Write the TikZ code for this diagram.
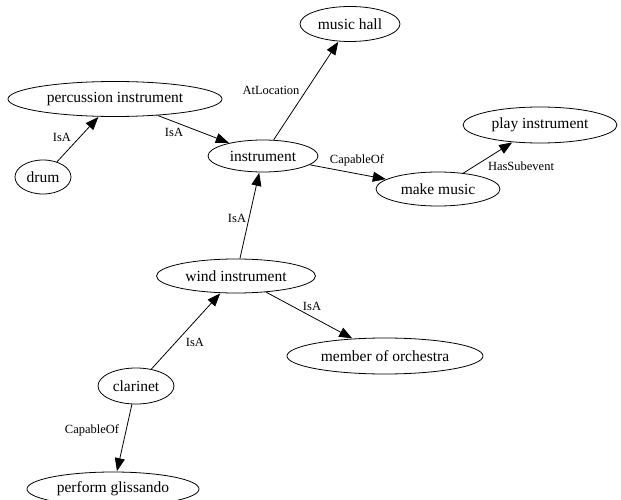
\documentclass[tikz,border=0pt]{standalone}
\usepackage{fontspec}
\setmainfont{Liberation Serif}
\usetikzlibrary{shapes.geometric,arrows.meta}
\begin{document}
\begin{tikzpicture}[x=1pt,y=-1pt,
  concept/.style={draw,ellipse,inner sep=0pt,line width=0.8pt,font=\fontsize{15.5}{15.5}\selectfont},
  rel/.style={draw,line width=0.8pt,-{Triangle[length=13pt,width=10pt]},shorten >=0.5pt},
  lbl/.style={font=\fontsize{12.5}{12.5}\selectfont,inner sep=1pt}]
\useasboundingbox (0,0) rectangle (621,500);
\node[concept,minimum width=100pt,minimum height=35pt] (hall) at (350,24) {music hall};
\node[concept,minimum width=214pt,minimum height=35pt] (perc) at (115,99) {percussion instrument};
\node[concept,minimum width=56pt,minimum height=34pt] (drum) at (43,177) {drum};
\node[concept,minimum width=110pt,minimum height=32pt] (instr) at (263,156) {instrument};
\node[concept,minimum width=154pt,minimum height=36pt] (play) at (540,125) {play instrument};
\node[concept,minimum width=124pt,minimum height=34pt] (make) at (438,189) {make music};
\node[concept,minimum width=159pt,minimum height=34pt] (wind) at (236,276) {wind instrument};
\node[concept,minimum width=196pt,minimum height=36pt] (member) at (385,356) {member of orchestra};
\node[concept,minimum width=76pt,minimum height=36pt] (clar) at (136,386) {clarinet};
\node[concept,minimum width=172pt,minimum height=34pt] (glis) at (113,489) {perform glissando};

\draw[rel] (drum) -- (perc);
\draw[rel] (perc) -- (instr);
\draw[rel] (instr) -- (hall);
\draw[rel] (instr) -- (make);
\draw[rel] (make) -- (play);
\draw[rel] (wind) -- (instr);
\draw[rel] (wind) -- (member);
\draw[rel] (clar) -- (wind);
\draw[rel] (clar) -- (glis);

\node[lbl] (l1) at (62,137) {IsA};
\node[lbl] (l2) at (174,132) {IsA};
\node[lbl] (l3) at (271,90) {AtLocation};
\node[lbl] (l4) at (357,160) {CapableOf};
\node[lbl] (l5) at (521,166) {HasSubevent};
\node[lbl] (l6) at (237,218) {IsA};
\node[lbl] (l7) at (312,306) {IsA};
\node[lbl] (l8) at (195,342) {IsA};
\node[lbl] (l9) at (92,430) {CapableOf};
\end{tikzpicture}
\end{document}
